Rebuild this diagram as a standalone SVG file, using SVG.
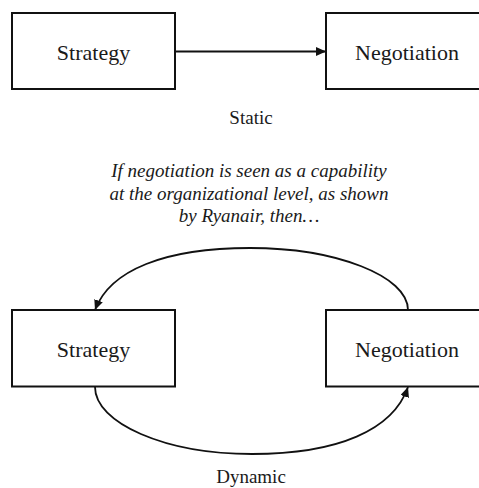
<svg xmlns="http://www.w3.org/2000/svg" width="479" height="488" viewBox="0 0 479 488">
<style>
.box{fill:#fff;stroke:#111;stroke-width:2}
.lbl{font-family:"Liberation Serif","Times New Roman",serif;font-size:22px;fill:#1a1a1a;text-anchor:middle}
.cap{font-family:"Liberation Serif","Times New Roman",serif;font-size:19px;fill:#1a1a1a;text-anchor:middle}
.it{font-family:"Liberation Serif","Times New Roman",serif;font-size:19px;font-style:italic;fill:#1a1a1a;text-anchor:middle}
.edge{fill:none;stroke:#111;stroke-width:1.8}
</style>
<defs>
<marker id="arr" markerUnits="userSpaceOnUse" markerWidth="11" markerHeight="10" refX="10" refY="4.5" orient="auto" viewBox="0 0 11 10">
<path d="M0,0 L10,4.5 L0,9 z" fill="#111"/>
</marker>
</defs>
<rect width="479" height="488" fill="#fff"/>
<g id="connectors">
<path class="edge" d="M175,51.5 L326,51.5" marker-end="url(#arr)"/>
<path class="edge" d="M408,310 C408,276 336,248 250,248 C165,248 110,270 95,310" marker-end="url(#arr)"/>
<path class="edge" d="M95,387 C95,423 165,454 252,454 C338,454 393,430 408,387" marker-end="url(#arr)"/>
</g>
<g id="node-strategy-static">
<rect class="box" x="12" y="13" width="163" height="76"/>
<text class="lbl" x="93.5" y="60">Strategy</text>
</g>
<g id="node-negotiation-static">
<rect class="box" x="326" y="13" width="170" height="76"/>
<text class="lbl" x="407" y="60">Negotiation</text>
</g>
<g id="label-static">
<text class="cap" x="251" y="124">Static</text>
</g>
<g id="label-condition">
<text class="it" x="249" y="177">If negotiation is seen as a capability</text>
<text class="it" x="249" y="199.5">at the organizational level, as shown</text>
<text class="it" x="249" y="222">by Ryanair, then…</text>
</g>
<g id="node-strategy-dynamic">
<rect class="box" x="12" y="310" width="163" height="76.5"/>
<text class="lbl" x="93.5" y="357">Strategy</text>
</g>
<g id="node-negotiation-dynamic">
<rect class="box" x="326" y="310" width="170" height="76.5"/>
<text class="lbl" x="407" y="357">Negotiation</text>
</g>
<g id="label-dynamic">
<text class="cap" x="251" y="483">Dynamic</text>
</g>
</svg>
